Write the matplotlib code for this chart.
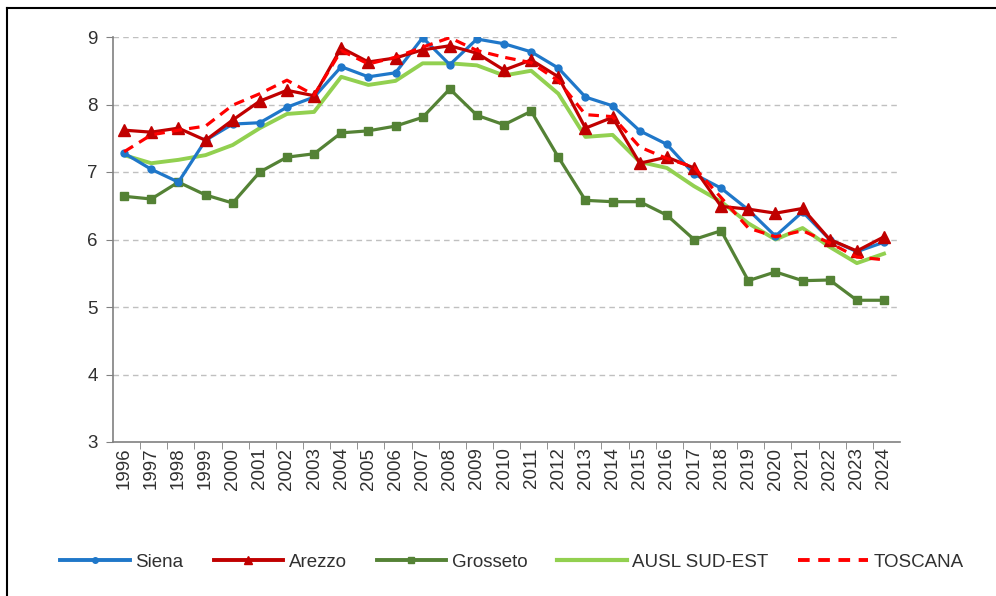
import matplotlib
matplotlib.use("Agg")
import matplotlib.pyplot as plt
from matplotlib.lines import Line2D

plt.rcParams['font.family'] = ['Liberation Sans', 'DejaVu Sans']

years = list(range(1996, 2025))
siena = [7.28, 7.04, 6.85, 7.47, 7.71, 7.73, 7.96, 8.11, 8.56, 8.41, 8.47, 8.99, 8.59,
         8.97, 8.90, 8.78, 8.54, 8.11, 7.98, 7.61, 7.41, 6.97, 6.76, 6.44, 6.05, 6.41,
         6.00, 5.82, 5.96]
arezzo = [7.62, 7.59, 7.65, 7.47, 7.77, 8.05, 8.21, 8.13, 8.84, 8.63, 8.69, 8.81, 8.87,
          8.76, 8.51, 8.66, 8.41, 7.65, 7.81, 7.13, 7.22, 7.06, 6.49, 6.45, 6.39, 6.46,
          6.00, 5.83, 6.04]
grosseto = [6.64, 6.60, 6.85, 6.66, 6.54, 7.00, 7.22, 7.27, 7.58, 7.61, 7.68, 7.81, 8.23,
            7.84, 7.70, 7.90, 7.22, 6.58, 6.56, 6.56, 6.36, 6.00, 6.13, 5.39, 5.52, 5.39,
            5.40, 5.10, 5.10]
ausl = [7.25, 7.13, 7.18, 7.25, 7.40, 7.65, 7.86, 7.89, 8.41, 8.29, 8.35, 8.61, 8.61,
        8.58, 8.43, 8.50, 8.16, 7.52, 7.55, 7.15, 7.06, 6.79, 6.56, 6.24, 6.00, 6.17,
        5.89, 5.65, 5.79]
toscana = [7.30, 7.55, 7.62, 7.68, 7.99, 8.16, 8.36, 8.14, 8.80, 8.60, 8.70, 8.85, 8.99,
           8.80, 8.70, 8.62, 8.35, 7.85, 7.82, 7.37, 7.20, 7.07, 6.62, 6.17, 6.04, 6.13,
           5.95, 5.74, 5.70]
series_names = ["Siena", "Arezzo", "Grosseto", "AUSL SUD-EST", "TOSCANA"]
yticks = [3, 4, 5, 6, 7, 8, 9]

fig = plt.figure(figsize=(9.96, 5.96), dpi=100)
ax = fig.add_axes([113/996, 1-442/596, (900-113)/996, (442-37)/596])

lw = 2.3
ax.plot(years, ausl, color='#92D050', lw=2.8, label=series_names[3], zorder=3)
ax.plot(years, grosseto, color='#548235', lw=lw, marker='s', ms=6, label=series_names[2], zorder=3)
ax.plot(years, siena, color='#1F77C9', lw=lw, marker='o', ms=5, label=series_names[0], zorder=4)
ax.plot(years, arezzo, color='#C00000', lw=lw, marker='^', ms=8, label=series_names[1], zorder=5)
tl, = ax.plot(years, toscana, color='#FF0000', lw=lw, label=series_names[4], zorder=6)
tl.set_dashes((3.3, 2.2))

ax.set_xlim(1995.59, 2024.59)
ax.set_ylim(3, 9)
ax.set_yticks(yticks)
ax.set_yticklabels([str(v) for v in yticks], fontsize=13.5, color='#303030')
ax.set_xticks(years)
ax.set_xticklabels([str(y) for y in years], rotation=90, fontsize=13.5, color='#303030')
ax.tick_params(axis='x', length=0, pad=4)
ax.set_xticks([y + 0.59 for y in years[:-1]], minor=True)
ax.tick_params(axis='x', which='minor', length=5, color='#808080', direction='out')
ax.tick_params(axis='y', length=5, color='#808080', direction='out', pad=6)

for v in yticks[1:]:
    ax.axhline(v, color='#C0C0C0', lw=1, dashes=(4, 3), zorder=1)

for s in ['top', 'right']:
    ax.spines[s].set_visible(False)
for s in ['left', 'bottom']:
    ax.spines[s].set_color('#808080')
    ax.spines[s].set_linewidth(1.2)

handles = [
    Line2D([], [], color='#1F77C9', lw=2.8, marker='o', ms=4),
    Line2D([], [], color='#C00000', lw=2.8, marker='^', ms=6),
    Line2D([], [], color='#548235', lw=2.8, marker='s', ms=4.5),
    Line2D([], [], color='#92D050', lw=3),
    Line2D([], [], color='#FF0000', lw=2.8, dashes=(3.0, 2.2)),
]
fig.legend(handles, series_names, loc='center', bbox_to_anchor=(0.514, 1-562/596),
           ncol=5, frameon=False, fontsize=13.5, handlelength=3.7, handletextpad=0.3,
           columnspacing=1.6, labelcolor='#303030')

# outer border (left and top visible)
fig.add_artist(Line2D([7/996, 7/996], [0, 1-8/596], transform=fig.transFigure, color='black', lw=1.5))
fig.add_artist(Line2D([7/996, 1], [1-8/596, 1-8/596], transform=fig.transFigure, color='black', lw=1.5))

fig.savefig('out.png', dpi=100)
